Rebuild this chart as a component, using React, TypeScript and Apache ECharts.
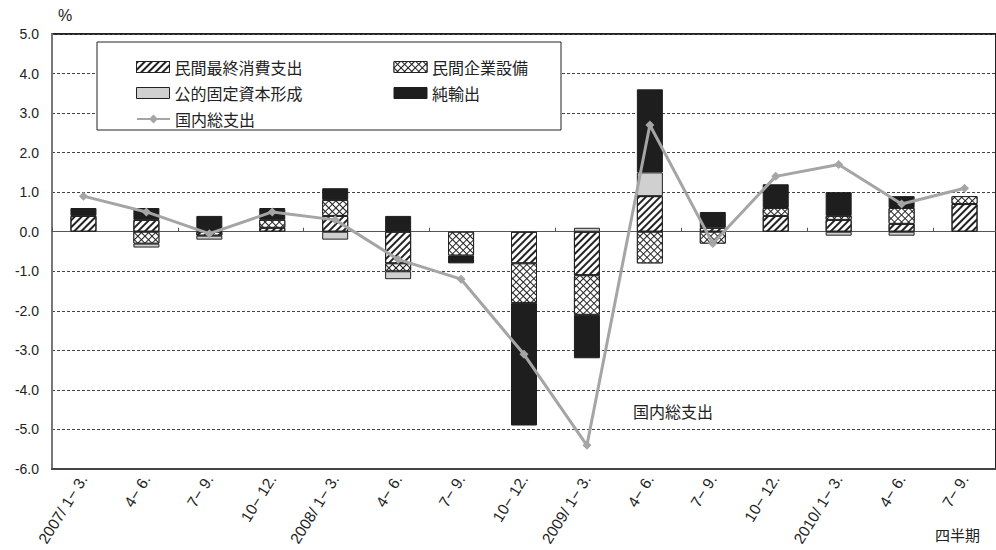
import React, { useEffect, useRef } from 'react';
import * as echarts from 'echarts';

const categories = [
  '2007/ 1− 3.', '4− 6.', '7− 9.', '10− 12.',
  '2008/ 1− 3.', '4− 6.', '7− 9.', '10− 12.',
  '2009/ 1− 3.', '4− 6.', '7− 9.', '10− 12.',
  '2010/ 1− 3.', '4− 6.', '7− 9.',
];

const consumption = [0.4, 0.3, -0.1, 0.1, 0.4, -0.8, 0, -0.8, -1.1, 0.9, 0.1, 0.4, 0.3, 0.2, 0.7];
const capex = [0, -0.3, 0, 0.2, 0.4, -0.2, -0.6, -1.0, -1.0, -0.8, -0.3, 0.2, 0.1, 0.4, 0.2];
const publicInv = [0, -0.1, -0.1, 0, -0.2, -0.2, 0, 0, 0.1, 0.6, 0, 0, -0.1, -0.1, 0];
const netExports = [0.2, 0.3, 0.4, 0.3, 0.3, 0.4, -0.2, -3.1, -1.1, 2.1, 0.4, 0.6, 0.6, 0.3, 0];
const gde = [0.9, 0.5, -0.05, 0.5, 0.3, -0.7, -1.2, -3.1, -5.4, 2.7, -0.3, 1.4, 1.7, 0.7, 1.1];

const seriesNames = ['民間最終消費支出', '民間企業設備', '公的固定資本形成', '純輸出', '国内総支出'];

const JP = '"Noto Sans CJK JP", "Noto Sans", sans-serif';
const LAT = '"Liberation Sans", Arial, sans-serif';

const nz = (arr: number[]) => arr.map((v) => (v === 0 ? null : v));

export default function App() {
  const ref = useRef<HTMLDivElement>(null);
  useEffect(() => {
    if (!ref.current) return;
    const chart = echarts.init(ref.current, undefined, { renderer: 'svg' });
    const barBase = {
      type: 'bar',
      stack: 'total',
      barWidth: 26,
      xAxisIndex: 0,
      yAxisIndex: 0,
    };
    const legendCommon = {
      itemWidth: 33,
      itemHeight: 11,
      selectedMode: false,
      left: 131,
      orient: 'horizontal',
      itemGap: 91,
      textStyle: { fontSize: 16, fontFamily: JP, color: '#222' },
      z: 10,
    };
    const hatch = { symbol: 'rect', symbolSize: 1, dashArrayX: [1, 0], dashArrayY: [2, 3], rotation: -Math.PI / 4, color: '#222' };
    const cross = { symbol: 'rect', symbolSize: 1, dashArrayX: [4, 1], dashArrayY: [4, 1], rotation: Math.PI / 4, color: '#fff' };
    chart.setOption({
      animation: false,
      backgroundColor: '#fff',
      grid: { left: 52, top: 34, width: 949, height: 435, show: true, borderColor: '#222', borderWidth: 2, backgroundColor: 'transparent' },
      legend: [
        { ...legendCommon, top: 54, data: [{ name: seriesNames[0], icon: 'rect' }, { name: seriesNames[1], icon: 'rect' }], itemStyle: { borderWidth: 1 } },
        { ...legendCommon, top: 80, data: [{ name: seriesNames[2], icon: 'rect' }, { name: seriesNames[3], icon: 'rect' }], itemStyle: { borderWidth: 1 } },
        { ...legendCommon, top: 106, data: [seriesNames[4]] },
      ],
      xAxis: [
        {
          type: 'category',
          data: categories,
          position: 'bottom',
          axisLine: { onZero: false, lineStyle: { color: '#444', width: 2 } },
          axisTick: { show: false },
          axisLabel: { interval: 0, rotate: 58, fontSize: 15.5, fontFamily: LAT, color: '#222', margin: 7 },
        },
        {
          type: 'category',
          data: categories,
          position: 'top',
          axisLine: { onZero: true, lineStyle: { color: '#555', width: 1 } },
          axisTick: { show: true, length: 4, lineStyle: { color: '#555' } },
          axisLabel: { show: false },
          splitLine: { show: false },
        },
      ],
      yAxis: {
        type: 'value',
        min: -6,
        max: 5,
        interval: 1,
        name: '%',
        nameLocation: 'end',
        nameGap: 11,
        nameTextStyle: { fontSize: 16, fontFamily: LAT, color: '#222', padding: [0, 0, 0, 26] },
        axisLine: { show: true, lineStyle: { color: '#777', width: 2 } },
        axisTick: { show: false },
        axisLabel: { formatter: (v: number) => v.toFixed(1), fontSize: 14, fontFamily: LAT, color: '#222', margin: 13 },
        splitLine: { show: true, lineStyle: { color: '#444', type: [3, 2], width: 1 } },
      },
      series: [
        {
          ...barBase,
          name: seriesNames[0],
          data: nz(consumption),
          itemStyle: { color: '#fff', borderColor: '#222', borderWidth: 1, decal: hatch },
        },
        {
          ...barBase,
          name: seriesNames[1],
          data: nz(capex),
          itemStyle: { color: '#222', borderColor: '#222', borderWidth: 1, decal: cross },
        },
        {
          ...barBase,
          name: seriesNames[2],
          data: nz(publicInv),
          itemStyle: { color: '#d0d0d0', borderColor: '#222', borderWidth: 1 },
        },
        {
          ...barBase,
          name: seriesNames[3],
          data: nz(netExports),
          itemStyle: { color: '#1e1e1e', borderColor: '#1e1e1e', borderWidth: 1 },
        },
        {
          type: 'line',
          name: seriesNames[4],
          data: gde,
          xAxisIndex: 0,
          yAxisIndex: 0,
          symbol: 'diamond',
          symbolSize: 9,
          lineStyle: { color: '#a5a5a5', width: 3 },
          itemStyle: { color: '#a5a5a5' },
          z: 10,
        },
      ],
      graphic: [
        { type: 'rect', z: 5, shape: { x: 97, y: 42, width: 464, height: 88 }, style: { fill: '#fff', stroke: '#222', lineWidth: 1 } },
        { type: 'text', z: 5, x: 633, y: 403, style: { text: '国内総支出', font: `16px ${JP}`, fill: '#222' } },
        { type: 'text', z: 5, x: 935, y: 527, style: { text: '四半期', font: `15px ${JP}`, fill: '#222' } },
      ],
    });
    return () => chart.dispose();
  }, []);
  return <div ref={ref} style={{ width: 996, height: 550, position: 'fixed', left: 0, top: 0 }} />;
}
